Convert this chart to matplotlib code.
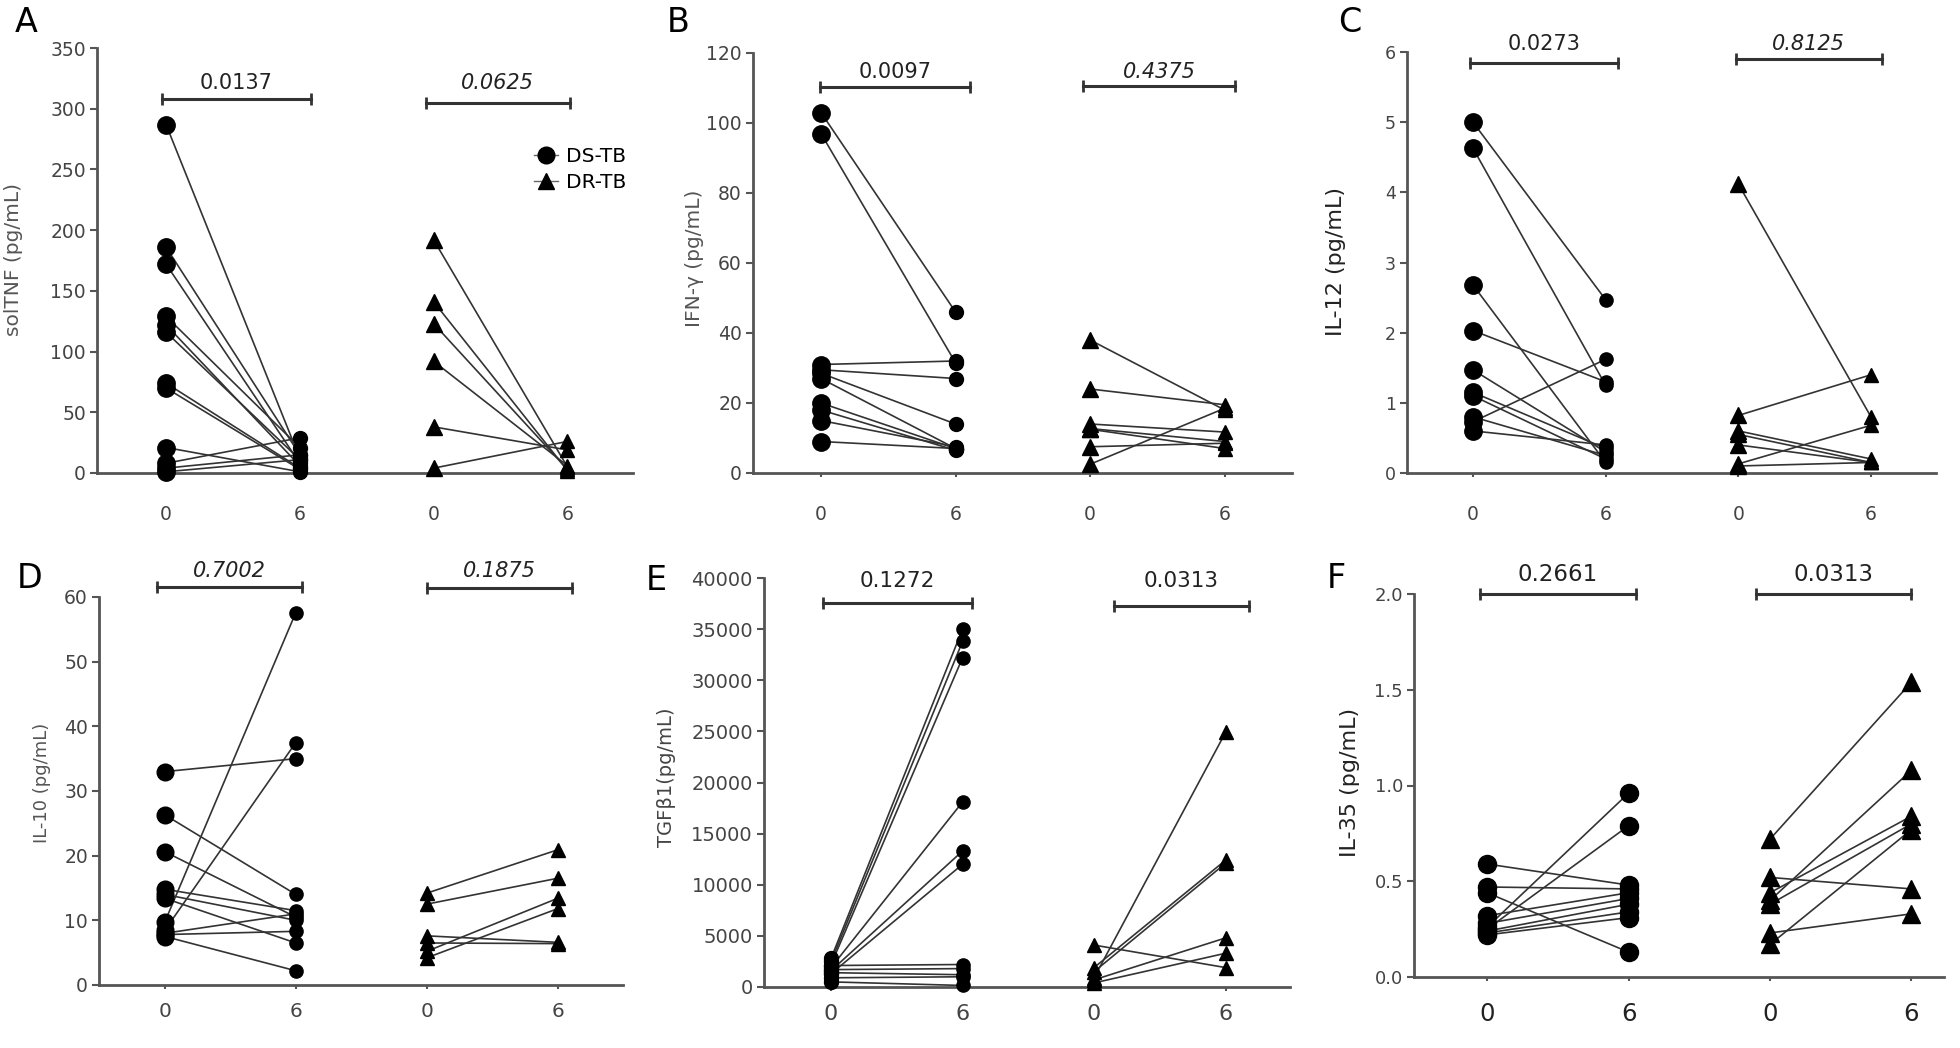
import matplotlib
matplotlib.use("Agg")
import matplotlib.pyplot as plt
from matplotlib.lines import Line2D

# ---- data ----
weeks = ["0", "6", "0", "6"]

tnf_ds_0 = [287, 186, 172, 129, 122, 116, 74, 70, 21, 8, 4, 1]
tnf_ds_6 = [12, 15, 8, 21, 6, 11, 4, 3, 1, 29, 15, 11]
tnf_dr_0 = [192, 141, 123, 92, 38, 4]
tnf_dr_6 = [5, 2, 3, 6, 19, 26]

ifn_ds_0 = [103, 97, 31, 29.5, 28.5, 27, 20, 18, 15, 9]
ifn_ds_6 = [46, 31.5, 32, 27, 14, 7, 7, 6.5, 7.5, 7]
ifn_dr_0 = [38, 24, 14, 12.7, 12.5, 7.5, 2.5]
ifn_dr_6 = [18, 19.5, 11.7, 9, 7, 8.5, 18.5]

il12_ds_0 = [5.0, 4.63, 2.68, 2.03, 1.47, 1.15, 1.1, 0.8, 0.73, 0.6]
il12_ds_6 = [2.47, 1.25, 0.15, 1.3, 0.3, 0.35, 0.2, 0.25, 1.62, 0.4]
il12_dr_0 = [4.12, 0.82, 0.6, 0.55, 0.4, 0.13, 0.1]
il12_dr_6 = [0.8, 1.4, 0.2, 0.15, 0.15, 0.68, 0.15]

il10_ds_0 = [33, 26.3, 20.6, 14.8, 14, 13.4, 9.8, 8.5, 8, 7.8, 7.5]
il10_ds_6 = [35, 14, 10.5, 11.5, 10, 6.5, 57.6, 37.5, 11, 8.3, 2.2]
il10_dr_0 = [14.2, 12.5, 7.6, 6.5, 5.2, 4.2]
il10_dr_6 = [20.9, 16.5, 6.6, 6.4, 13.4, 11.8]

tgf_ds_0 = [2800, 2500, 2200, 1900, 1600, 1300, 2100, 1700, 1400, 900, 500]
tgf_ds_6 = [35000, 33800, 32200, 18100, 13300, 12000, 2200, 1800, 1200, 1000, 150]
tgf_dr_0 = [4100, 1900, 1500, 900, 700, 400]
tgf_dr_6 = [1900, 12400, 12100, 24900, 4800, 3300]

il35_ds_0 = [0.59, 0.47, 0.44, 0.26, 0.25, 0.32, 0.28, 0.24, 0.23, 0.22]
il35_ds_6 = [0.48, 0.46, 0.13, 0.96, 0.79, 0.44, 0.41, 0.38, 0.34, 0.31]
il35_dr_0 = [0.72, 0.40, 0.44, 0.38, 0.52, 0.17, 0.23]
il35_dr_6 = [1.54, 1.08, 0.84, 0.80, 0.46, 0.77, 0.33]

p_values = [("0.0137", "0.0625"), ("0.0097", "0.4375"), ("0.0273", "0.8125"),
            ("0.7002", "0.1875"), ("0.1272", "0.0313"), ("0.2661", "0.0313")]
p_italic = [(False, True), (False, True), (False, True),
            (True, True), (False, False), (False, False)]

ylabels = ["solTNF (pg/mL)", "IFN-γ (pg/mL)", "IL-12 (pg/mL)",
           "IL-10 (pg/mL)", "TGFβ1(pg/mL)", "IL-35 (pg/mL)"]
letters = ["A", "B", "C", "D", "E", "F"]

# ---- layout (pixels in a 1960x1048 canvas) ----
W, H = 1960, 1048
panels = [
    dict(box=(97, 633, 48, 473), xlim=(-0.516, 3.49), ylim=(0, 350), yticks=range(0, 351, 50),
         data=(tnf_ds_0, tnf_ds_6, tnf_dr_0, tnf_dr_6), bar=(308, 305, 321),
         br=((-0.03, 1.08), (1.94, 3.02)), letter=(15, 23), ylab=(14, 259, 14.5, "#555"),
         ms=(12.5, 10, 12, 10), tfs=13.5, xfs=13.5, xpad=20, pfs=15, tcol="#444"),
    dict(box=(753, 1292, 53, 473), xlim=(-0.505, 3.5), ylim=(0, 120), yticks=range(0, 121, 20),
         data=(ifn_ds_0, ifn_ds_6, ifn_dr_0, ifn_dr_6), bar=(110.3, 110.6, 114.5),
         br=((-0.01, 1.11), (1.95, 3.08)), letter=(667, 23), ylab=(695, 258, 14.5, "#555"),
         ms=(12.5, 10, 12, 10), tfs=13.5, xfs=13.5, xpad=20, pfs=15, tcol="#444"),
    dict(box=(1407, 1936, 52, 473), xlim=(-0.497, 3.49), ylim=(0, 6), yticks=range(0, 7),
         data=(il12_ds_0, il12_ds_6, il12_dr_0, il12_dr_6), bar=(5.84, 5.9, 6.12),
         br=((-0.02, 1.09), (1.98, 3.08)), letter=(1338, 23), ylab=(1336, 262, 16, "#222"),
         ms=(12.5, 9.5, 11, 9.5), tfs=12.5, xfs=13.5, xpad=20, pfs=15, tcol="#444"),
    dict(box=(99, 623, 597, 985), xlim=(-0.504, 3.5), ylim=(0, 60), yticks=range(0, 61, 10),
         data=(il10_ds_0, il10_ds_6, il10_dr_0, il10_dr_6), bar=(61.5, 61.4, 64.0),
         br=((-0.06, 1.05), (2.0, 3.11)), letter=(17, 578), ylab=(42, 783, 13, "#555"),
         ms=(12, 9.5, 10, 10), tfs=13.5, xfs=14.5, xpad=9, pfs=15, tcol="#444"),
    dict(box=(764, 1290, 578, 987), xlim=(-0.51, 3.49), ylim=(0, 40000),
         yticks=range(0, 40001, 5000),
         data=(tgf_ds_0, tgf_ds_6, tgf_dr_0, tgf_dr_6), bar=(37555, 37260, 39700),
         br=((-0.06, 1.07), (2.15, 3.18)), letter=(646, 580), ylab=(667, 777, 14, "#444"),
         ms=(10, 9.5, 10, 9.5), tfs=14, xfs=16, xpad=9, pfs=15.5, tcol="#444"),
    dict(box=(1414, 1944, 594, 977), xlim=(-0.517, 3.23), ylim=(0, 2.0),
         yticks=[0.0, 0.5, 1.0, 1.5, 2.0],
         data=(il35_ds_0, il35_ds_6, il35_dr_0, il35_dr_6), bar=(2.0, 2.0, 2.1),
         br=((-0.05, 1.05), (1.9, 3.0)), letter=(1327, 578), ylab=(1350, 782, 16, "#222"),
         ms=(13, 13, 13, 13), tfs=13, xfs=17.5, xpad=15, pfs=16.5, tcol="#444"),
]

line_col = "#333333"
spine_col = "#555555"

fig = plt.figure(figsize=(W / 100, H / 100), dpi=100)

for i, p in enumerate(panels):
    x0, x1, yt, yb = p["box"]
    ax = fig.add_axes([x0 / W, 1 - yb / H, (x1 - x0) / W, (yb - yt) / H])
    ds0, ds6, dr0, dr6 = p["data"]
    ms_ds0, ms_ds6, ms_dr0, ms_dr6 = p["ms"]

    for a, b in zip(ds0, ds6):
        ax.plot([0, 1], [a, b], color=line_col, lw=1.2, zorder=2, clip_on=False)
    for a, b in zip(dr0, dr6):
        ax.plot([2, 3], [a, b], color=line_col, lw=1.2, zorder=2, clip_on=False)
    ax.plot([0] * len(ds0), ds0, "o", color="black", ms=ms_ds0, zorder=3, clip_on=False)
    ax.plot([1] * len(ds6), ds6, "o", color="black", ms=ms_ds6, zorder=3, clip_on=False)
    ax.plot([2] * len(dr0), dr0, "^", color="black", ms=ms_dr0, zorder=3, clip_on=False)
    ax.plot([3] * len(dr6), dr6, "^", color="black", ms=ms_dr6, zorder=3, clip_on=False)

    ax.set_xlim(*p["xlim"])
    ax.set_ylim(*p["ylim"])
    ax.set_yticks(list(p["yticks"]))
    if i == 5:
        ax.set_yticklabels([f"{v:.1f}" for v in p["yticks"]])
    ax.set_xticks([0, 1, 2, 3])
    ax.set_xticklabels(weeks)

    for s in ["top", "right"]:
        ax.spines[s].set_visible(False)
    for s in ["left", "bottom"]:
        ax.spines[s].set_color(spine_col)
        ax.spines[s].set_linewidth(2)
    ax.tick_params(axis="y", length=5, width=1.5, color=spine_col, labelsize=p["tfs"],
                   labelcolor=p["tcol"], pad=3)
    ax.tick_params(axis="x", length=3, width=1.5, color=spine_col, labelsize=p["xfs"],
                   labelcolor="#222" if i == 5 else p["tcol"], pad=p["xpad"])

    # significance brackets
    yl, yr, ytxt = p["bar"]
    for (bx0, bx1), yb_, txt, it in zip(p["br"], (yl, yr), p_values[i], p_italic[i]):
        ax.plot([bx0, bx1], [yb_, yb_], color="#333", lw=2.2, marker="|", ms=9, mew=2,
                clip_on=False, zorder=4)
        ax.text((bx0 + bx1) / 2, ytxt, txt, ha="center", va="center", fontsize=p["pfs"],
                color="#222", style="italic" if it else "normal", clip_on=False)

    lx, ly = p["letter"]
    fig.text(lx / W, 1 - ly / H, letters[i], fontsize=24, ha="left", va="center", color="black")

    tx, ty, tfs, tcol = p["ylab"]
    fig.text(tx / W, 1 - ty / H, ylabels[i], rotation=90, fontsize=tfs, color=tcol,
             ha="center", va="center")

    if i == 0:
        handles = [Line2D([], [], color="#666", lw=1, marker="o", ms=12, mfc="black", mec="black"),
                   Line2D([], [], color="#666", lw=1, marker="^", ms=12, mfc="black", mec="black")]
        ax.legend(handles, ["DS-TB", "DR-TB"], loc="center left", bbox_to_anchor=(0.815, 0.713),
                  frameon=False, fontsize=14.5, handlelength=1.2, handletextpad=0.4,
                  labelspacing=0.35, borderpad=0, borderaxespad=0)

fig.savefig("out.png", dpi=100, facecolor="white")
